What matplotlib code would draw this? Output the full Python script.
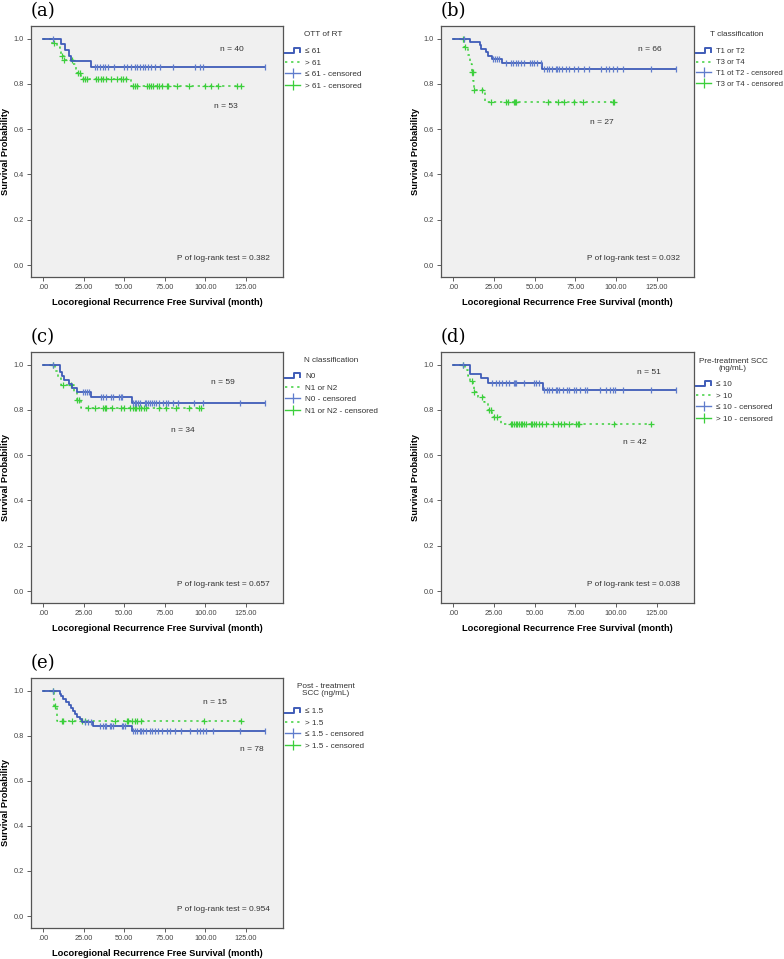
import numpy as np
import matplotlib
matplotlib.use('Agg')
import matplotlib.pyplot as plt
from matplotlib.lines import Line2D
from matplotlib.legend_handler import HandlerBase

plt.rcParams['font.family'] = ['Liberation Sans', 'DejaVu Sans']

# ---- data (time in months, survival probability) ----
# (a) OTT of RT
a_blue_t = [10.7, 13.2, 15.9, 17.3, 29.7]
a_blue_s = [0.975, 0.95, 0.925, 0.90, 0.874]
a_blue_c = [6, 31.7, 33.4, 34.8, 36.9, 37.9, 40, 43.7, 49.8, 51.9, 54, 56.4, 58.1, 59.5, 61.6,
            62.6, 64.7, 66.7, 68.8, 71.9, 80.1, 93.5, 96.6, 98.6, 137]
a_green_t = [5, 8.5, 10, 11, 12.5, 18.5, 20, 21, 23, 54]
a_green_s = [0.981, 0.962, 0.943, 0.925, 0.906, 0.887, 0.868, 0.849, 0.822, 0.79]
a_green_c = [6.8, 11.3, 13, 17.5, 21.6, 22.6, 24.7, 25.7, 27.2, 32.4, 33.8, 35.6, 37.1, 38.7, 41.6,
             45.4, 47.8, 49.4, 51, 55.6, 56.6, 57.7, 63.8, 65.5, 66.3, 68, 70, 71.7, 73.1, 76.2,
             77.2, 82.4, 90.2, 99.9, 103.6, 107.7, 119.4, 121.9]

# (b) T classification
b_blue_t = [10, 16.2, 17.2, 20.3, 21.1, 23.6, 29.9, 54.8]
b_blue_s = [0.985, 0.97, 0.955, 0.939, 0.924, 0.909, 0.892, 0.866]
b_blue_c = [6.3, 24.2, 25.6, 26.7, 28.3, 32.2, 35.3, 36.7, 38.8, 40, 41.5, 43.5, 47, 48.6, 49.7,
            51.7, 53.8, 55.8, 57.3, 58.9, 60.9, 63, 64, 65, 67.1, 69.2, 71.2, 74.3, 76.4, 80.5,
            83.6, 90.7, 93.8, 95.9, 98.4, 100.4, 104.1, 121.5, 137]
b_green_t = [6.8, 9, 10.5, 11.2, 12.2, 12.6, 19.5]
b_green_s = [0.963, 0.926, 0.889, 0.852, 0.815, 0.772, 0.722]
b_green_c = [6.2, 7.3, 11.6, 12.0, 13, 17.9, 23, 32.2, 33.3, 37.4, 38, 38.8, 57.9, 64.1, 68.2,
             74.3, 79.8, 97.9, 99]

# (c) N classification
c_blue_t = [10, 10.5, 11.5, 13, 16, 17.5, 21, 29.7, 54.7]
c_blue_s = [0.983, 0.966, 0.949, 0.932, 0.915, 0.898, 0.881, 0.857, 0.831]
c_blue_c = [6, 24.2, 25.6, 27, 28.3, 35.5, 36.9, 38.5, 42, 43, 46.7, 48.2, 48.8, 55.3, 56.4, 57.4,
            58.4, 59.4, 62.5, 63.5, 64.5, 66, 67.2, 68.6, 69.7, 71.3, 73.8, 75.8, 76.8, 79.9, 83,
            93.2, 98.8, 121.3, 136.7]
c_green_t = [7, 9, 11, 19, 20.5, 23.5]
c_green_s = [0.971, 0.941, 0.912, 0.878, 0.843, 0.809]
c_green_c = [6.1, 12.3, 17.4, 20.9, 21.9, 27.7, 31.8, 36.9, 37.9, 39, 42.6, 48.2, 49.8, 53.3, 55.3,
             56.4, 57.4, 59, 60.5, 61.9, 63.5, 71.3, 75.8, 82, 89.8, 95.9, 97.3]

# (d) Pre-treatment SCC
d_blue_t = [10.1, 16.8, 21.5, 55.2]
d_blue_s = [0.961, 0.941, 0.92, 0.89]
d_blue_c = [6, 23.6, 26.1, 28.1, 30.2, 32.2, 34.3, 37.4, 38, 38.8, 43.5, 49.7, 51.1, 52.8, 55.8,
            57.3, 58.9, 60.9, 63, 64, 65, 67.5, 69.6, 71.2, 74.3, 75.3, 77.8, 81.1, 82.5, 90.1,
            93.8, 96.3, 97.9, 99.5, 104.1, 121.5, 136.9]
d_green_t = [7, 9, 10.5, 12.2, 12.5, 15, 19, 21, 24, 29.5]
d_green_s = [0.976, 0.952, 0.929, 0.905, 0.881, 0.857, 0.833, 0.80, 0.77, 0.739]
d_green_c = [6.2, 11.7, 12.7, 17.9, 22, 23, 25, 27.1, 35.3, 36.3, 37.4, 38.4, 39.4, 40.4, 41.5,
             42.5, 43.5, 44.5, 47.6, 48.6, 49.7, 50.7, 52.8, 54.4, 56.9, 61.4, 64.1, 66.1, 68.2,
             71.2, 75.3, 76.4, 77.4, 98.9, 121.5]

# (e) Post-treatment SCC
e_blue_t = [10, 10.8, 12.4, 13.9, 15.9, 17, 18.6, 19.6, 21.1, 22.7, 24.1, 30.4, 54.5]
e_blue_s = [0.987, 0.974, 0.962, 0.949, 0.936, 0.923, 0.910, 0.897, 0.885, 0.872, 0.859, 0.843, 0.82]
e_blue_c = [6, 25.7, 27.8, 29.2, 35, 37, 38, 39, 41.1, 42.1, 43.2, 48.3, 49.3, 50.4, 55.5, 56.5,
            57.6, 59.6, 60.6, 61.7, 63.7, 65.8, 67.4, 68.9, 70.9, 73, 76.1, 78.1, 81.2, 85.3, 90.5,
            94.6, 96.7, 98.7, 100.3, 104.8, 121.3, 137.1]
e_green_t = [6.7, 8.3]
e_green_s = [0.933, 0.867]
e_green_c = [6.2, 7.2, 11.3, 12.3, 17.5, 23.6, 25.7, 44.2, 51.4, 52.4, 54.5, 56.5, 57.9, 60.6,
             99.1, 122.3]

panel_letters = ['(a)', '(b)', '(c)', '(d)', '(e)']
legend_titles = ['OTT of RT', 'T classification', 'N classification',
                 'Pre-treatment SCC\n(ng/mL)', 'Post - treatment\nSCC (ng/mL)']
legend_labels = [
    ['≤ 61', '> 61', '≤ 61 - censored', '> 61 - censored'],
    ['T1 or T2', 'T3 or T4', 'T1 ot T2 - censored', 'T3 or T4 - censored'],
    ['N0', 'N1 or N2', 'N0 - censored', 'N1 or N2 - censored'],
    ['≤ 10', '> 10', '≤ 10 - censored', '> 10 - censored'],
    ['≤ 1.5', '> 1.5', '≤ 1.5 - censored', '> 1.5 - censored'],
]
n_blue = ['n = 40', 'n = 66', 'n = 59', 'n = 51', 'n = 78']
n_green = ['n = 53', 'n = 27', 'n = 34', 'n = 42', 'n = 15']
n_blue_pos = [(116.5, 0.95), (121, 0.95), (110.7, 0.92), (120.5, 0.967), (128.5, 0.737)]
n_green_pos = [(113, 0.70), (91.3, 0.63), (86, 0.71), (111.3, 0.657), (105.9, 0.948)]
p_values = ['0.382', '0.032', '0.657', '0.038', '0.954']

series = [
    (a_blue_t, a_blue_s, a_blue_c, a_green_t, a_green_s, a_green_c),
    (b_blue_t, b_blue_s, b_blue_c, b_green_t, b_green_s, b_green_c),
    (c_blue_t, c_blue_s, c_blue_c, c_green_t, c_green_s, c_green_c),
    (d_blue_t, d_blue_s, d_blue_c, d_green_t, d_green_s, d_green_c),
    (e_blue_t, e_blue_s, e_blue_c, e_green_t, e_green_s, e_green_c),
]

BLUE = '#3f5cb8'
BLUE_C = '#5f7ccc'
GREEN = '#3ccf3c'
TXT = '#333333'


def km_step(t, s, cens):
    end = max(max(cens), t[-1])
    x = [0] + list(t) + [end]
    y = [1.0] + list(s) + [s[-1]]
    return x, y


def level_at(t, s, times):
    idx = np.searchsorted(np.array(t), np.array(times), side='right')
    lev = np.concatenate([[1.0], s])
    return lev[idx]


class StepHandler(HandlerBase):
    def create_artists(self, legend, orig, xd, yd, w, h, fontsize, trans):
        xs = [-xd, -xd + 0.62 * w, -xd + 0.62 * w, -xd + w, -xd + w]
        ys = [-yd + 0.0 * h, -yd + 0.0 * h, -yd + 1.0 * h, -yd + 1.0 * h, -yd + 0.2 * h]
        ln = Line2D(xs, ys, color=BLUE, lw=1.4, transform=trans)
        return [ln]


fig = plt.figure(figsize=(7.84, 9.59), dpi=100)
W, H = 784, 959
boxes = [(31, 26, 252, 251), (441, 26, 253, 251),
         (31, 352, 252, 251), (441, 352, 253, 251),
         (31, 678, 252, 250)]
# legend layout, in pixels from the axes top / as axes fraction
title_x = [1.159, 1.17, 1.19, 1.154, 1.17]
title_dy = [8, 8.3, 8.7, 13.3, 12.2]
entry_dy = [25, 25, 24, 32, 33]
leg_size = [5.9, 5.5, 5.9, 5.9, 5.9]

for i, (l, t, w, h) in enumerate(boxes):
    ax = fig.add_axes([l / W, 1 - (t + h) / H, w / W, h / H])
    ax.set_facecolor('#f0f0f0')
    bt, bs, bc, gt, gs, gc = series[i]

    gx, gy = km_step(gt, gs, gc)
    ax.step(gx, gy, where='post', color=GREEN, lw=1.1, linestyle=(0, (1.5, 2.5)))
    ax.plot(gc, level_at(gt, gs, gc), '+', color=GREEN, ms=5, mew=0.9)

    bx, by = km_step(bt, bs, bc)
    ax.step(bx, by, where='post', color=BLUE, lw=1.3)
    ax.plot(bc, level_at(bt, bs, bc), '|', color=BLUE_C, ms=5, mew=0.9)

    ax.set_xlim(-7.6, 148)
    ax.set_ylim(-0.053, 1.056)
    ax.set_xticks([0, 25, 50, 75, 100, 125])
    ax.set_xticklabels(['.00', '25.00', '50.00', '75.00', '100.00', '125.00'])
    ax.set_yticks([0, 0.2, 0.4, 0.6, 0.8, 1.0])
    ax.set_yticklabels(['0.0', '0.2', '0.4', '0.6', '0.8', '1.0'])
    ax.tick_params(labelsize=5.3, colors='#444444', length=3, width=0.6, pad=2)
    for sp in ax.spines.values():
        sp.set_color('#555555')
        sp.set_linewidth(0.9)

    ax.set_xlabel('Locoregional Recurrence Free Survival (month)', fontsize=6.7,
                  fontweight='bold')
    ax.xaxis.set_label_coords(0.5, -21 / h)
    ax.set_ylabel('Survival Probability', fontsize=6.7, fontweight='bold')
    ax.yaxis.set_label_coords(-21 / w, 0.5)

    ax.text(*n_blue_pos[i], n_blue[i], fontsize=6, color=TXT, ha='center', va='center')
    ax.text(*n_green_pos[i], n_green[i], fontsize=6, color=TXT, ha='center', va='center')
    ax.text(111, 0.03, 'P of log-rank test = ' + p_values[i], fontsize=5.95,
            color=TXT, ha='center', va='center')

    ax.text(0.0, 1.0 + 15 / h, panel_letters[i], transform=ax.transAxes, fontsize=13,
            family='DejaVu Serif', ha='left', va='center')

    ax.text(title_x[i], 1 - title_dy[i] / h, legend_titles[i], transform=ax.transAxes,
            fontsize=5.9, color=TXT, ha='center', va='center', multialignment='center',
            linespacing=1.05)

    handles = [Line2D([], [], color=BLUE),
               Line2D([], [], color=GREEN, lw=1.1, linestyle=(0, (1.5, 2.5))),
               Line2D([], [], color=BLUE_C, lw=1.0, marker='|', ms=7, mew=0.9),
               Line2D([], [], color=GREEN, lw=1.0, marker='|', ms=7, mew=0.9)]
    fs = leg_size[i]
    leg = ax.legend(handles, legend_labels[i],
                    loc='upper left', bbox_to_anchor=(1 + 2 / w, 1 - (entry_dy[i] - 3) / h),
                    frameon=False, fontsize=fs, handlelength=1.85 * 5.9 / fs,
                    handletextpad=0.6 * 5.9 / fs, handleheight=0.6,
                    labelspacing=0.47 * 5.9 / fs, borderpad=0, borderaxespad=0,
                    handler_map={handles[0]: StepHandler()})
    for txt in leg.get_texts():
        txt.set_color(TXT)

fig.savefig('out.png', dpi=100)
